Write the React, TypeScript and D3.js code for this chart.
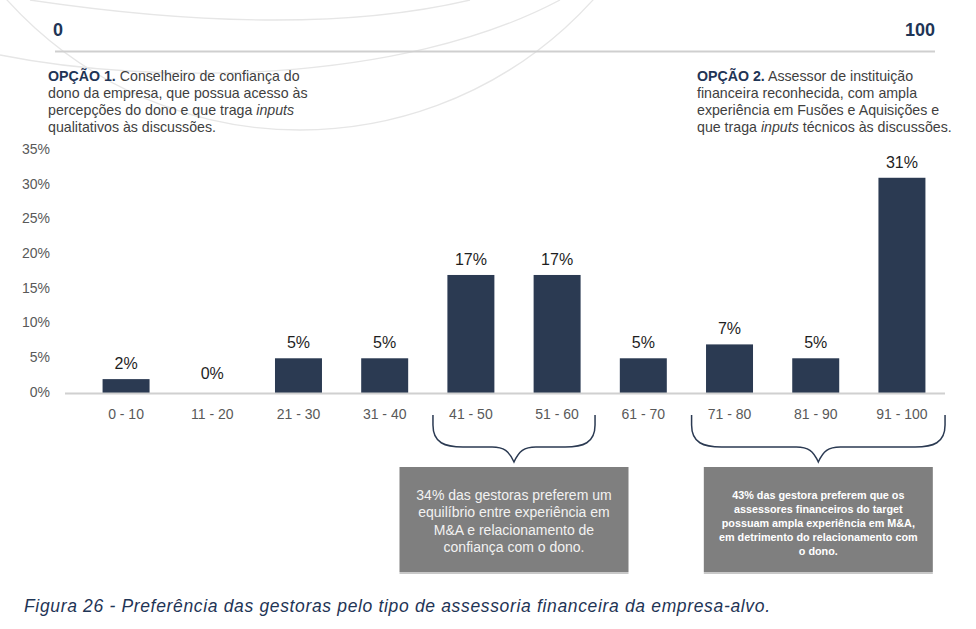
import React, { useRef, useEffect } from "react";
import * as d3 from "d3";

// Preference scale buckets (0 = option 1, 100 = option 2) and share of respondents
const ranges = [
  "0 - 10",
  "11 - 20",
  "21 - 30",
  "31 - 40",
  "41 - 50",
  "51 - 60",
  "61 - 70",
  "71 - 80",
  "81 - 90",
  "91 - 100",
];
const shares = [2, 0, 5, 5, 17, 17, 5, 7, 5, 31];
const yTicks = [0, 5, 10, 15, 20, 25, 30, 35];

const option1 = [
  [{ t: "OPÇÃO 1.", b: true }, { t: " Conselheiro de confiança do" }],
  [{ t: "dono da empresa, que possua acesso às" }],
  [{ t: "percepções do dono e que traga " }, { t: "inputs", i: true }],
  [{ t: "qualitativos às discussões." }],
];
const option2 = [
  [{ t: "OPÇÃO 2.", b: true }, { t: " Assessor de instituição" }],
  [{ t: "financeira reconhecida, com ampla" }],
  [{ t: "experiência em Fusões e Aquisições e" }],
  [{ t: "que traga " }, { t: "inputs", i: true }, { t: " técnicos às discussões." }],
];

const groupFrom = ["41 - 50", "71 - 80"];
const groupTo = ["51 - 60", "91 - 100"];
const groupNotes = [
  [
    "34% das gestoras preferem um",
    "equilíbrio entre experiência em",
    "M&A e relacionamento de",
    "confiança com o dono.",
  ],
  [
    "43% das gestora preferem que os",
    "assessores financeiros do target",
    "possuam ampla experiência em M&A,",
    "em detrimento do relacionamento com",
    "o dono.",
  ],
];

const caption =
  "Figura 26 - Preferência das gestoras pelo tipo de assessoria financeira da empresa-alvo.";

const W = 976;
const H = 629;
const NAVY = "#2b3a52";
const FONT = "'Liberation Sans', Arial, Helvetica, sans-serif";

const PreferenceChart = () => {
  const ref = useRef(null);

  useEffect(() => {
    const svg = d3.select(ref.current);
    svg.selectAll("*").remove();
    svg.attr("width", W).attr("height", H).style("font-family", FONT);

    svg.append("rect").attr("width", W).attr("height", H).attr("fill", "#fff");

    // faint decorative arcs behind the header
    const deco = svg.append("g").attr("fill", "none").attr("stroke", "#e6e6e6").attr("stroke-width", 1.3);
    deco.append("path").attr("d", "M30,0 Q300,40 470,0");
    deco.append("path").attr("d", "M0,55 C150,85 400,85 560,0");
    deco
      .append("path")
      .attr("d", d3.arc()({ innerRadius: 395, outerRadius: 395, startAngle: Math.PI / 2 + 0.1, endAngle: Math.PI * 1.5 - 0.1 }) as string)
      .attr("transform", "translate(300,-265)");

    // 0 ... 100 header scale
    svg.append("line").attr("x1", 55).attr("x2", 935).attr("y1", 51.5).attr("y2", 51.5)
      .attr("stroke", "#cfcfcf").attr("stroke-width", 2);
    svg.append("text").attr("x", 53).attr("y", 36).text("0")
      .attr("font-size", 18).attr("font-weight", "bold").attr("fill", "#1f3556");
    svg.append("text").attr("x", 935).attr("y", 36).attr("text-anchor", "end").text("100")
      .attr("font-size", 18).attr("font-weight", "bold").attr("fill", "#1f3556");

    const drawOption = (lines: any[], x: number) => {
      lines.forEach((parts: any[], i: number) => {
        const t = svg.append("text").attr("x", x).attr("y", 80.5 + i * 17)
          .attr("font-size", 14.2).attr("fill", "#3f3f3f");
        parts.forEach((p: any) => {
          t.append("tspan").text(p.t)
            .attr("font-weight", p.b ? "bold" : null)
            .attr("fill", p.b ? "#1f3556" : null)
            .attr("font-style", p.i ? "italic" : null);
        });
      });
    };
    drawOption(option1, 48);
    drawOption(option2, 697);

    // bar chart
    const x = d3.scaleBand().domain(ranges).range([83, 945]).paddingInner(0.455).paddingOuter(0.227);
    const y = d3.scaleLinear().domain([0, 35]).range([393, 150]);

    svg.append("g").selectAll("text").data(yTicks).enter().append("text")
      .attr("x", 50).attr("y", (d: number) => y(d) - 1).attr("dy", "0.35em")
      .attr("text-anchor", "end").attr("font-size", 14).attr("fill", "#595959")
      .text((d: number) => `${d}%`);

    svg.append("g").selectAll("rect").data(shares).enter().append("rect")
      .attr("x", (_: number, i: number) => x(ranges[i]) as number)
      .attr("y", (d: number) => y(d))
      .attr("width", x.bandwidth())
      .attr("height", (d: number) => y(0) - y(d))
      .attr("fill", NAVY);

    svg.append("line").attr("x1", 65).attr("x2", 945).attr("y1", 393.5).attr("y2", 393.5)
      .attr("stroke", "#d0d0d0").attr("stroke-width", 2);

    svg.append("g").selectAll("text").data(shares).enter().append("text")
      .attr("x", (_: number, i: number) => (x(ranges[i]) as number) + x.bandwidth() / 2)
      .attr("y", (d: number) => y(d) - (d === 0 ? 14 : 10))
      .attr("text-anchor", "middle").attr("font-size", 16).attr("fill", "#1e1e1e")
      .text((d: number) => `${d}%`);

    svg.append("g").selectAll("text").data(ranges).enter().append("text")
      .attr("x", (d: string) => (x(d) as number) + x.bandwidth() / 2)
      .attr("y", 418.5)
      .attr("text-anchor", "middle").attr("font-size", 14).attr("fill", "#595959")
      .text((d: string) => d);

    // braces grouping buckets, with a note box under each
    const step = x.step();
    const reach = [0.44, 0.5];
    groupFrom.forEach((from, gi) => {
      const x0 = (x(from) as number) + x.bandwidth() / 2 - step * 0.44;
      const x1 = (x(groupTo[gi]) as number) + x.bandwidth() / 2 + step * reach[gi];
      const mid = (x0 + x1) / 2;
      const top = 415;
      const flat = 447;
      const tip = 462;
      const p = d3.path();
      p.moveTo(x0, top);
      p.lineTo(x0, flat - 22);
      p.bezierCurveTo(x0, flat - 4, x0 + 12, flat, x0 + 30, flat);
      p.lineTo(mid - 22, flat);
      p.bezierCurveTo(mid - 10, flat, mid - 5, flat + 4, mid, tip);
      p.bezierCurveTo(mid + 5, flat + 4, mid + 10, flat, mid + 22, flat);
      p.lineTo(x1 - 30, flat);
      p.bezierCurveTo(x1 - 12, flat, x1, flat - 4, x1, flat - 22);
      p.lineTo(x1, top);
      svg.append("path").attr("d", p.toString()).attr("fill", "none")
        .attr("stroke", NAVY).attr("stroke-width", 1.5);

      const bw = 229;
      const bx = mid - bw / 2;
      svg.append("rect").attr("x", bx).attr("y", 572).attr("width", bw).attr("height", 2).attr("fill", "#c8c8c8");
      svg.append("rect").attr("x", bx).attr("y", 467).attr("width", bw).attr("height", 105).attr("fill", "#7f7f7f");

      const lines = groupNotes[gi];
      const small = gi === 1;
      lines.forEach((ln, li) => {
        svg.append("text").attr("x", mid)
          .attr("y", small ? 499 + li * 14.1 : 499.5 + li * 17.5)
          .attr("text-anchor", "middle")
          .attr("font-size", small ? 10.8 : 14)
          .attr("font-weight", small ? "bold" : null)
          .attr("fill", small ? "#ffffff" : "#f2f2f2")
          .text(ln);
      });
    });

    svg.append("text").attr("x", 24).attr("y", 612).text(caption)
      .attr("font-size", 17.5).attr("font-style", "italic").attr("fill", "#1f3556")
      .attr("textLength", 746).attr("lengthAdjust", "spacing");
  }, []);

  return <svg ref={ref} style={{ position: "absolute", left: 0, top: 0, display: "block" }}></svg>;
};

export default function App() {
  return <PreferenceChart />;
}
